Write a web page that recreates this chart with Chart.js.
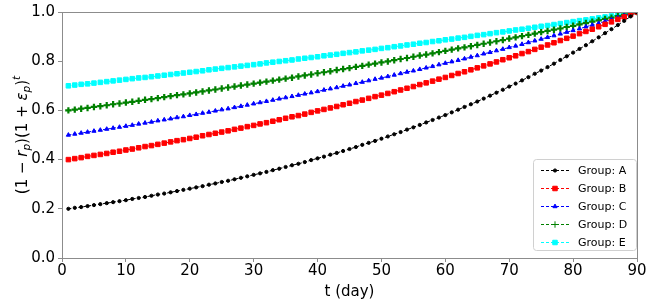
<!DOCTYPE html>
<html>
<head>
<meta charset="utf-8">
<script src="https://cdn.jsdelivr.net/npm/chart.js@4.4.1/dist/chart.umd.min.js"></script>
<style>
  html, body { margin: 0; padding: 0; background: #fff; }
  #wrap { width: 654px; height: 301px; position: relative; }
</style>
</head>
<body>
<div id="wrap"><canvas id="grafica"></canvas></div>
<script>
// dias (eje x)
const dias = Array.from({ length: 90 }, (_, i) => i + 1);

// valores
const grupoA = [
  0.200,0.204,0.207,0.211,0.215,0.219,0.223,0.227,0.231,0.235,
  0.240,0.244,0.248,0.253,0.258,0.262,0.267,0.272,0.277,0.282,
  0.287,0.292,0.298,0.303,0.309,0.314,0.320,0.326,0.332,0.338,
  0.344,0.350,0.357,0.363,0.370,0.377,0.383,0.390,0.398,0.405,
  0.412,0.420,0.427,0.435,0.443,0.451,0.460,0.468,0.476,0.485,
  0.494,0.503,0.512,0.522,0.531,0.541,0.551,0.561,0.571,0.581,
  0.592,0.603,0.614,0.625,0.636,0.648,0.660,0.672,0.684,0.697,
  0.709,0.722,0.735,0.749,0.762,0.776,0.790,0.805,0.820,0.835,
  0.850,0.865,0.881,0.897,0.914,0.930,0.947,0.964,0.982,1.000
];
const grupoB = [
  0.400,0.404,0.408,0.413,0.417,0.421,0.425,0.430,0.434,0.439,
  0.443,0.448,0.453,0.457,0.462,0.467,0.472,0.477,0.481,0.486,
  0.491,0.497,0.502,0.507,0.512,0.517,0.523,0.528,0.534,0.539,
  0.545,0.550,0.556,0.562,0.568,0.574,0.579,0.585,0.592,0.598,
  0.604,0.610,0.616,0.623,0.629,0.636,0.642,0.649,0.656,0.662,
  0.669,0.676,0.683,0.690,0.697,0.705,0.712,0.719,0.727,0.734,
  0.742,0.750,0.757,0.765,0.773,0.781,0.789,0.797,0.806,0.814,
  0.822,0.831,0.839,0.848,0.857,0.866,0.875,0.884,0.893,0.902,
  0.912,0.921,0.930,0.940,0.950,0.960,0.970,0.980,0.990,1.000
];
const grupoC = [
  0.500,0.504,0.508,0.512,0.516,0.520,0.524,0.528,0.532,0.536,
  0.540,0.545,0.549,0.553,0.558,0.562,0.566,0.571,0.575,0.580,
  0.584,0.589,0.593,0.598,0.603,0.607,0.612,0.617,0.622,0.627,
  0.632,0.637,0.642,0.647,0.652,0.657,0.662,0.667,0.672,0.677,
  0.683,0.688,0.693,0.699,0.704,0.710,0.715,0.721,0.727,0.732,
  0.738,0.744,0.750,0.756,0.761,0.767,0.773,0.779,0.786,0.792,
  0.798,0.804,0.810,0.817,0.823,0.830,0.836,0.843,0.849,0.856,
  0.862,0.869,0.876,0.883,0.890,0.897,0.904,0.911,0.918,0.925,
  0.932,0.940,0.947,0.954,0.962,0.969,0.977,0.985,0.992,1.000
];
const grupoD = [
  0.600,0.603,0.607,0.610,0.614,0.617,0.621,0.625,0.628,0.632,
  0.635,0.639,0.643,0.646,0.650,0.654,0.658,0.662,0.665,0.669,
  0.673,0.677,0.681,0.685,0.689,0.693,0.697,0.701,0.705,0.709,
  0.713,0.717,0.721,0.725,0.729,0.733,0.738,0.742,0.746,0.751,
  0.755,0.759,0.764,0.768,0.772,0.777,0.781,0.786,0.790,0.795,
  0.799,0.804,0.809,0.813,0.818,0.823,0.827,0.832,0.837,0.842,
  0.847,0.852,0.856,0.861,0.866,0.871,0.876,0.881,0.886,0.892,
  0.897,0.902,0.907,0.912,0.918,0.923,0.928,0.933,0.939,0.944,
  0.950,0.955,0.961,0.966,0.972,0.977,0.983,0.989,0.994,1.000
];
const grupoE = [
  0.700,0.703,0.706,0.708,0.711,0.714,0.717,0.720,0.723,0.726,
  0.729,0.732,0.734,0.737,0.740,0.743,0.746,0.749,0.752,0.755,
  0.758,0.761,0.765,0.768,0.771,0.774,0.777,0.780,0.783,0.786,
  0.789,0.793,0.796,0.799,0.802,0.805,0.809,0.812,0.815,0.818,
  0.822,0.825,0.828,0.832,0.835,0.838,0.842,0.845,0.848,0.852,
  0.855,0.859,0.862,0.866,0.869,0.873,0.876,0.880,0.883,0.887,
  0.890,0.894,0.897,0.901,0.905,0.908,0.912,0.916,0.919,0.923,
  0.927,0.930,0.934,0.938,0.942,0.945,0.949,0.953,0.957,0.961,
  0.965,0.968,0.972,0.976,0.980,0.984,0.988,0.992,0.996,1.000
];

const nombres = ['Group: A', 'Group: B', 'Group: C', 'Group: D', 'Group: E'];
const series = [grupoA, grupoB, grupoC, grupoD, grupoE];
const ticksX = [0, 10, 20, 30, 40, 50, 60, 70, 80, 90];
const ticksY = [0.0, 0.2, 0.4, 0.6, 0.8, 1.0];

const estilos = [
  { color: '#000000', forma: 'circle', radio: 1.6, borde: 1 },
  { color: '#ff0000', forma: 'rect', radio: 3.2, borde: 1 },
  { color: '#0000ff', forma: 'triangle', radio: 2.4, borde: 1 },
  { color: '#008000', forma: 'cross', radio: 3.2, borde: 2.2 },
  { color: '#00ffff', forma: 'rect', radio: 3.2, borde: 1 }
];

const FUENTE = '"DejaVu Sans", sans-serif';
const EJE = '#8c8c8c';

const datasets = series.map((valores, i) => ({
  label: nombres[i],
  data: dias.map((d, j) => ({ x: d, y: valores[j] })),
  borderColor: estilos[i].color,
  backgroundColor: estilos[i].color,
  borderWidth: 1,
  borderDash: [3, 2],
  pointStyle: estilos[i].forma,
  pointRadius: estilos[i].radio,
  pointBorderWidth: estilos[i].borde,
  pointBackgroundColor: estilos[i].color,
  pointBorderColor: estilos[i].color,
  tension: 0
}));

// marco y titulo del eje y con subindices
const marcoPlugin = {
  id: 'marco',
  afterDraw(chart) {
    const { ctx, chartArea: a } = chart;
    ctx.save();
    ctx.strokeStyle = EJE;
    ctx.lineWidth = 1;
    ctx.strokeRect(a.left + 0.5, a.top + 0.5, a.right - a.left, a.bottom - a.top);

    // titulo eje y
    ctx.translate(22, (a.top + a.bottom) / 2);
    ctx.rotate(-Math.PI / 2);
    ctx.fillStyle = '#000';
    ctx.textBaseline = 'alphabetic';
    const partes = [
      { t: '(1 \u2212 ', f: '15px', dy: 0 },
      { t: 'r', f: 'italic 15px', dy: 0 },
      { t: 'p', f: 'italic 10.5px', dy: 3 },
      { t: ')(1 + ', f: '15px', dy: 0 },
      { t: '\u03b5', f: 'italic 15px', dy: 0 },
      { t: 'p', f: 'italic 10.5px', dy: 3 },
      { t: ')', f: '15px', dy: 0 },
      { t: 't', f: 'italic 10.5px', dy: -7 }
    ];
    let total = 0;
    partes.forEach(p => { ctx.font = p.f + ' ' + FUENTE; total += ctx.measureText(p.t).width; });
    let x = -total / 2;
    partes.forEach(p => {
      ctx.font = p.f + ' ' + FUENTE;
      ctx.fillText(p.t, x, 5 + p.dy);
      x += ctx.measureText(p.t).width;
    });
    ctx.restore();

    // leyenda
    const lx = 533, ly = 159, lw = 103, lh = 91;
    ctx.save();
    ctx.fillStyle = 'rgba(255,255,255,0.85)';
    ctx.strokeStyle = '#d0d0d0';
    ctx.lineWidth = 1;
    ctx.beginPath();
    ctx.roundRect(lx + 0.5, ly + 0.5, lw, lh, 3);
    ctx.fill();
    ctx.stroke();
    nombres.forEach((n, i) => {
      const y = ly + 11 + i * 18;
      const e = estilos[i];
      ctx.strokeStyle = e.color;
      ctx.lineWidth = 1;
      ctx.setLineDash([3, 2]);
      ctx.beginPath();
      ctx.moveTo(lx + 8, y + 0.5);
      ctx.lineTo(lx + 36, y + 0.5);
      ctx.stroke();
      ctx.setLineDash([]);
      ctx.fillStyle = e.color;
      Chart.helpers.drawPoint(ctx, {
        pointStyle: e.forma, radius: e.radio, borderWidth: e.borde, rotation: 0
      }, lx + 22, y + 0.5);
      ctx.fillStyle = '#000';
      ctx.font = '11px ' + FUENTE;
      ctx.textBaseline = 'middle';
      ctx.fillText(n, lx + 45, y + 1);
    });
    ctx.restore();
  }
};

new Chart(document.getElementById('grafica'), {
  type: 'line',
  data: { datasets },
  options: {
    responsive: true,
    maintainAspectRatio: false,
    animation: false,
    layout: { padding: { top: 11, right: 17, left: 0, bottom: 0 } },
    plugins: { legend: { display: false }, tooltip: { enabled: false } },
    scales: {
      x: {
        type: 'linear', min: 0, max: 90,
        afterBuildTicks: s => { s.ticks = ticksX.map(v => ({ value: v })); },
        afterFit: s => { s.height = 43; },
        border: { display: true, color: EJE },
        grid: { drawOnChartArea: false, drawTicks: true, tickLength: 4, color: EJE },
        ticks: { color: '#000', font: { family: FUENTE, size: 15 }, padding: 0, maxRotation: 0 },
        title: { display: true, text: 't (day)', color: '#000', font: { family: FUENTE, size: 15 }, padding: { top: 0, bottom: 0 } }
      },
      y: {
        min: 0, max: 1,
        afterBuildTicks: s => { s.ticks = ticksY.map(v => ({ value: v })); },
        afterFit: s => { s.width = 62; },
        border: { display: true, color: EJE },
        grid: { drawOnChartArea: false, drawTicks: true, tickLength: 4, color: EJE },
        ticks: { color: '#000', font: { family: FUENTE, size: 15 }, padding: 3, callback: v => v.toFixed(1) }
      }
    }
  },
  plugins: [marcoPlugin]
});
</script>
</body>
</html>
